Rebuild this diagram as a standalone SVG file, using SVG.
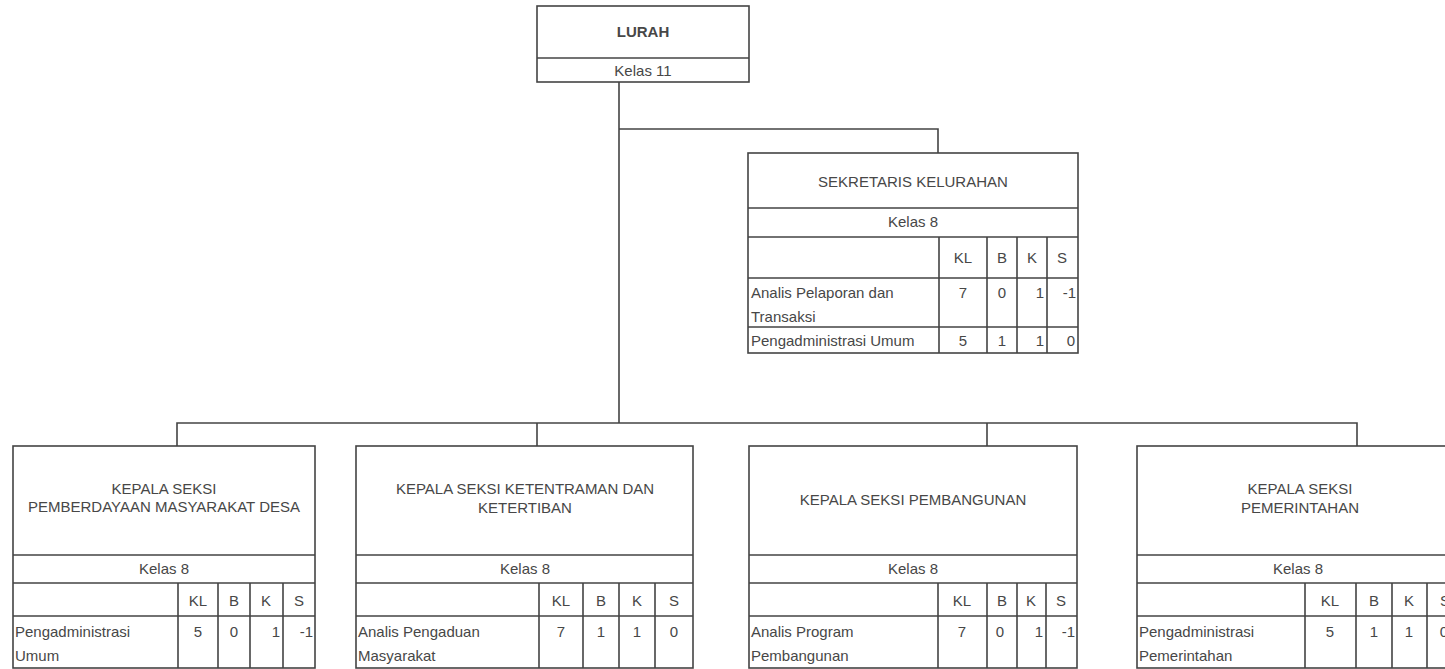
<svg xmlns="http://www.w3.org/2000/svg" width="1445" height="669" viewBox="0 0 1445 669">
<style>
.bx{fill:#fff;stroke:#444;stroke-width:1.6}
.ln{stroke:#444;stroke-width:1.6;fill:none}
.t{font-family:"Liberation Sans",Arial,sans-serif;font-size:15px;fill:#474747}
.c{text-anchor:middle}
.e{text-anchor:end}
.b{font-weight:bold}
</style>
<rect width="1445" height="669" fill="#fff"/>
<g id="connectors">
<path class="ln" d="M619 82V423M619 129H938V153M177 446V423H1357V446M537 423V446M987 423V446"/>
</g>
<g id="lurah">
<rect class="bx" x="537" y="6" width="212" height="76"/>
<path class="ln" d="M537 58H749"/>
<text class="t c b" x="643" y="37">LURAH</text>
<text class="t c" x="643" y="76">Kelas 11</text>
</g>
<g id="sekretaris">
<rect class="bx" x="748" y="153" width="330" height="200"/>
<path class="ln" d="M748 208H1078M748 237H1078M748 278H1078M748 327H1078M939 237V353M987 237V353M1017 237V353M1047 237V353"/>
<text class="t c" x="913" y="187">SEKRETARIS KELURAHAN</text>
<text class="t c" x="913" y="227">Kelas 8</text>
<text class="t c" x="963" y="263">KL</text>
<text class="t c" x="1002" y="263">B</text>
<text class="t c" x="1032" y="263">K</text>
<text class="t c" x="1062" y="263">S</text>
<text class="t" x="751" y="298">Analis Pelaporan dan</text>
<text class="t" x="751" y="322">Transaksi</text>
<text class="t c" x="963" y="298">7</text>
<text class="t c" x="1002" y="298">0</text>
<text class="t e" x="1044" y="298">1</text>
<text class="t e" x="1076" y="298">-1</text>
<text class="t" x="751" y="346">Pengadministrasi Umum</text>
<text class="t c" x="963" y="346">5</text>
<text class="t c" x="1002" y="346">1</text>
<text class="t e" x="1044" y="346">1</text>
<text class="t e" x="1075" y="346">0</text>
</g>
<g id="seksi-pmd">
<rect class="bx" x="13" y="446" width="302" height="222"/>
<path class="ln" d="M13 555H315M13 583H315M13 616H315M178 583V668M218 583V668M250 583V668M283 583V668"/>
<text class="t c" x="164" y="494">KEPALA SEKSI</text>
<text class="t c" x="164" y="512">PEMBERDAYAAN MASYARAKAT DESA</text>
<text class="t c" x="164" y="574">Kelas 8</text>
<text class="t c" x="198" y="606">KL</text>
<text class="t c" x="234" y="606">B</text>
<text class="t c" x="266" y="606">K</text>
<text class="t c" x="299" y="606">S</text>
<text class="t" x="15" y="637">Pengadministrasi</text>
<text class="t" x="15" y="661">Umum</text>
<text class="t c" x="198" y="637">5</text>
<text class="t c" x="234" y="637">0</text>
<text class="t e" x="280" y="637">1</text>
<text class="t e" x="313" y="637">-1</text>
</g>
<g id="seksi-trantib">
<rect class="bx" x="356" y="446" width="337" height="222"/>
<path class="ln" d="M356 555H693M356 583H693M356 616H693M539 583V668M583 583V668M619 583V668M655 583V668"/>
<text class="t c" x="525" y="494">KEPALA SEKSI KETENTRAMAN DAN</text>
<text class="t c" x="525" y="513">KETERTIBAN</text>
<text class="t c" x="525" y="574">Kelas 8</text>
<text class="t c" x="561" y="606">KL</text>
<text class="t c" x="601" y="606">B</text>
<text class="t c" x="637" y="606">K</text>
<text class="t c" x="674" y="606">S</text>
<text class="t" x="358" y="637">Analis Pengaduan</text>
<text class="t" x="358" y="661">Masyarakat</text>
<text class="t c" x="561" y="637">7</text>
<text class="t c" x="601" y="637">1</text>
<text class="t c" x="637" y="637">1</text>
<text class="t c" x="674" y="637">0</text>
</g>
<g id="seksi-pembangunan">
<rect class="bx" x="749" y="446" width="328" height="222"/>
<path class="ln" d="M749 555H1077M749 583H1077M749 616H1077M938 583V668M987 583V668M1017 583V668M1046 583V668"/>
<text class="t c" x="913" y="505">KEPALA SEKSI PEMBANGUNAN</text>
<text class="t c" x="913" y="574">Kelas 8</text>
<text class="t c" x="962" y="606">KL</text>
<text class="t c" x="1002" y="606">B</text>
<text class="t c" x="1031" y="606">K</text>
<text class="t c" x="1061" y="606">S</text>
<text class="t" x="751" y="637">Analis Program</text>
<text class="t" x="751" y="661">Pembangunan</text>
<text class="t c" x="962" y="637">7</text>
<text class="t c" x="1000" y="637">0</text>
<text class="t e" x="1043" y="637">1</text>
<text class="t e" x="1075" y="637">-1</text>
</g>
<g id="seksi-pemerintahan">
<rect class="bx" x="1137" y="446" width="326" height="222"/>
<path class="ln" d="M1137 555H1463M1137 583H1463M1137 616H1463M1305 583V668M1356 583V668M1392 583V668M1427 583V668"/>
<text class="t c" x="1300" y="494">KEPALA SEKSI</text>
<text class="t c" x="1300" y="513">PEMERINTAHAN</text>
<text class="t c" x="1298" y="574">Kelas 8</text>
<text class="t c" x="1330" y="606">KL</text>
<text class="t c" x="1374" y="606">B</text>
<text class="t c" x="1409" y="606">K</text>
<text class="t c" x="1445" y="606">S</text>
<text class="t" x="1139" y="637">Pengadministrasi</text>
<text class="t" x="1139" y="661">Pemerintahan</text>
<text class="t c" x="1330" y="637">5</text>
<text class="t c" x="1374" y="637">1</text>
<text class="t c" x="1409" y="637">1</text>
<text class="t c" x="1444" y="637">0</text>
</g>
</svg>
